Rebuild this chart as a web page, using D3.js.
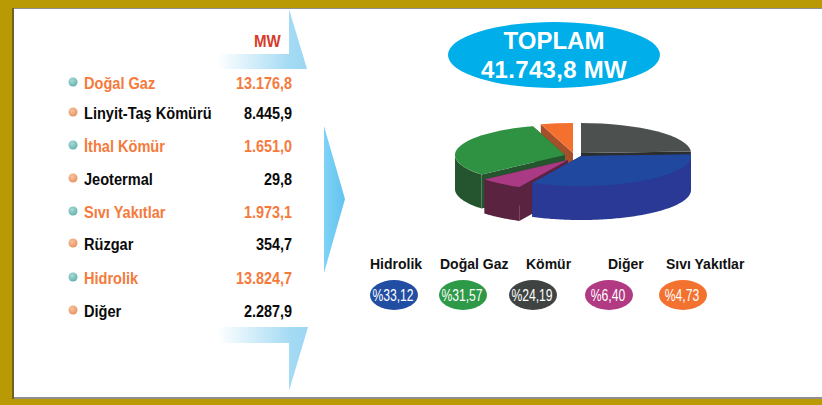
<!DOCTYPE html>
<html>
<head>
<meta charset="utf-8">
<script src="https://cdn.jsdelivr.net/npm/d3@7"></script>
<style>
html, body { margin: 0; padding: 0; background: #fff; }
svg { display: block; }
text { font-family: "Liberation Sans", Arial, sans-serif; font-weight: bold; }
</style>
</head>
<body>
<div id="chart"></div>
<script>
var width = 822;
var height = 405;

// Kurulu guc tablosu
var rowNames = ["Doğal Gaz", "Linyit-Taş Kömürü", "İthal Kömür", "Jeotermal", "Sıvı Yakıtlar", "Rüzgar", "Hidrolik", "Diğer"];
var rowLabels = ["13.176,8", "8.445,9", "1.651,0", "29,8", "1.973,1", "354,7", "13.824,7", "2.287,9"];

// Pasta dilimleri
var pieNames = ["Hidrolik", "Doğal Gaz", "Kömür", "Diğer", "Sıvı Yakıtlar"];
var pieValues = [33.12, 31.57, 24.19, 6.40, 4.73];
var pieBadges = ["%33,12", "%31,57", "%24,19", "%6,40", "%4,73"];
var pieOrder = ["Kömür", "Hidrolik", "Diğer", "Doğal Gaz", "Sıvı Yakıtlar"];

var totalLines = ["TOPLAM", "41.743,8 MW"];

// Yerlesim
var rowY = d3.scaleOrdinal().domain(rowNames).range([83, 113, 146, 179, 212, 244, 278, 311]);
var labelX = d3.scaleOrdinal().domain(pieNames).range([370, 440, 526, 608, 666]);
var badgeX = d3.scaleOrdinal().domain(pieNames).range([394, 463, 533, 609, 683]);
var topColor = d3.scaleOrdinal().domain(pieNames).range(["#21489f", "#2f9142", "#4c514f", "#aa3a84", "#f3702f"]);
var wallColor = d3.scaleOrdinal().domain(pieNames).range(["#2a3896", "#24552e", "#2a2f2d", "#5a2340", "#a5502a"]);
var badgeColor = d3.scaleOrdinal().domain(pieNames).range(["#214ea3", "#2e9a48", "#3f4443", "#b13a82", "#f4722f"]);
var explodeX = d3.scaleOrdinal().domain(pieNames).range([0, -16, 0, -13, -8]);
var explodeY = d3.scaleOrdinal().domain(pieNames).range([3, 2, 0, 7, 0]);

var cx = 581, cy = 153, rx = 110, ry = 30, depth = 34;

var canvas = d3.select("#chart")
	.append("svg")
	.attr("width", width)
	.attr("height", height);

var defs = canvas.append("defs");

var fade = defs.append("linearGradient").attr("id", "fade");
fade.append("stop").attr("offset", "0").attr("stop-color", "#ffffff");
fade.append("stop").attr("offset", "0.8").attr("stop-color", "#a5dbf4");
fade.append("stop").attr("offset", "1").attr("stop-color", "#9bd6f3");

var midArrow = defs.append("linearGradient").attr("id", "midArrow");
midArrow.append("stop").attr("offset", "0").attr("stop-color", "#7fd2f6");
midArrow.append("stop").attr("offset", "1").attr("stop-color", "#62c3ef");

function bullet(id, light, dark) {
	var g = defs.append("radialGradient").attr("id", id).attr("cx", "0.4").attr("cy", "0.35").attr("r", "0.7");
	g.append("stop").attr("offset", "0").attr("stop-color", light);
	g.append("stop").attr("offset", "1").attr("stop-color", dark);
}
bullet("bulletTeal", "#a8dcd8", "#5fb0ac");
bullet("bulletOrange", "#f8c4a0", "#e8905c");

// Yaziyi dar gostermek icin
function squeeze(sel, f) {
	sel.attr("textLength", sel.node().getComputedTextLength() * f)
		.attr("lengthAdjust", "spacingAndGlyphs");
	return sel;
}

// Cerceve
canvas.append("rect").attr("width", width).attr("height", height).attr("fill", "#b99a05");
canvas.append("rect").attr("x", 12).attr("y", 8).attr("width", width - 12).attr("height", 391).attr("fill", "#8f8f8f");
canvas.append("rect").attr("x", 12).attr("y", 8).attr("width", 2).attr("height", 391).attr("fill", "#6e6320");
canvas.append("rect").attr("x", 14).attr("y", 9).attr("width", width - 14).attr("height", 388).attr("fill", "#ffffff");

// Oklar
var grupo_oklar = canvas.append("g");
var line = d3.line();
grupo_oklar.append("path")
	.attr("d", line([[289, 9], [307, 69], [218, 69], [218, 54], [289, 54]]) + "Z")
	.attr("fill", "url(#fade)");
grupo_oklar.append("path")
	.attr("d", line([[218, 327], [308, 327], [289, 391], [289, 343], [218, 343]]) + "Z")
	.attr("fill", "url(#fade)");
grupo_oklar.append("path")
	.attr("d", line([[324, 126], [345, 199], [324, 273]]) + "Z")
	.attr("fill", "url(#midArrow)");

// Tablo
var grupo_filas = canvas.append("g");
squeeze(canvas.append("text")
	.attr("x", 254).attr("y", 47)
	.attr("font-size", 16)
	.attr("fill", "#d93b2b")
	.text("MW"), 0.94);

rowNames.forEach(function(name, i) {
	var even = i % 2 == 0;
	var color = even ? "#f57a3c" : "#0a0a0a";
	grupo_filas.append("circle")
		.attr("cx", 73).attr("cy", rowY(name) - 1)
		.attr("r", 4.5)
		.attr("fill", even ? "url(#bulletTeal)" : "url(#bulletOrange)");
	squeeze(grupo_filas.append("text")
		.attr("x", 84).attr("y", rowY(name) + 5.5)
		.attr("font-size", 16)
		.attr("fill", color)
		.text(name), 0.91);
	squeeze(grupo_filas.append("text")
		.attr("x", 292).attr("y", rowY(name) + 5.5)
		.attr("text-anchor", "end")
		.attr("font-size", 16)
		.attr("fill", color)
		.text(rowLabels[i]), 0.9);
});

// Toplam
canvas.append("ellipse")
	.attr("cx", 554).attr("cy", 55)
	.attr("rx", 106).attr("ry", 33)
	.attr("fill", "#00aee9");
totalLines.forEach(function(t, i) {
	canvas.append("text")
		.attr("x", 554).attr("y", 49 + i * 29)
		.attr("text-anchor", "middle")
		.attr("font-size", 24)
		.attr("letter-spacing", i == 1 ? 0.3 : 0)
		.attr("fill", "#ffffff")
		.text(t);
});

// Pasta
var slices = d3.pie()
	.value(function(d) { return d.value; })
	.sort(function(a, b) { return pieOrder.indexOf(a.name) - pieOrder.indexOf(b.name); })
	(pieNames.map(function(n, i) { return { name: n, value: pieValues[i] }; }));

var arc = d3.arc().innerRadius(0).outerRadius(rx);

function ex(a) { return rx * Math.sin(a); }
function ey(a) { return -ry * Math.cos(a); }

var grupo_pie = canvas.append("g");
var paintOrder = ["Sıvı Yakıtlar", "Kömür", "Doğal Gaz", "Diğer", "Hidrolik"];

paintOrder.forEach(function(name) {
	var s = slices.filter(function(d) { return d.data.name == name; })[0];
	var g = grupo_pie.append("g")
		.attr("transform", "translate(" + (cx + explodeX(name)) + "," + (cy + explodeY(name)) + ")");

	// kesit yuzleri
	[s.startAngle, s.endAngle].forEach(function(a) {
		g.append("path")
			.attr("d", line([[0, 0], [ex(a), ey(a)], [ex(a), ey(a) + depth], [0, depth]]) + "Z")
			.attr("fill", wallColor(name));
	});

	// dis duvar
	var a0 = Math.max(s.startAngle, Math.PI / 2);
	var a1 = Math.min(s.endAngle, Math.PI * 3 / 2);
	if (a1 > a0) {
		var angles = d3.range(a0, a1, 0.02).concat([a1]);
		var pts = angles.map(function(a) { return [ex(a), ey(a)]; });
		var low = angles.slice().reverse().map(function(a) { return [ex(a), ey(a) + depth]; });
		g.append("path")
			.attr("d", line(pts.concat(low)) + "Z")
			.attr("fill", wallColor(name));
	}

	// ust yuz
	g.append("path")
		.attr("transform", "scale(1," + (ry / rx) + ")")
		.attr("d", arc(s))
		.attr("fill", topColor(name));
});

// Gosterge
var grupo_gosterge = canvas.append("g");
pieNames.forEach(function(name, i) {
	grupo_gosterge.append("text")
		.attr("x", labelX(name)).attr("y", 269)
		.attr("font-size", 14)
		.attr("fill", "#111111")
		.text(name);
	grupo_gosterge.append("ellipse")
		.attr("cx", badgeX(name)).attr("cy", 295)
		.attr("rx", 24).attr("ry", 15)
		.attr("fill", badgeColor(name));
	squeeze(grupo_gosterge.append("text")
		.attr("x", badgeX(name) - 1).attr("y", 301)
		.attr("text-anchor", "middle")
		.attr("font-size", 16)
		.attr("fill", "#ffffff")
		.style("font-weight", "normal")
		.text(pieBadges[i]), 0.76);
});
</script>
</body>
</html>
